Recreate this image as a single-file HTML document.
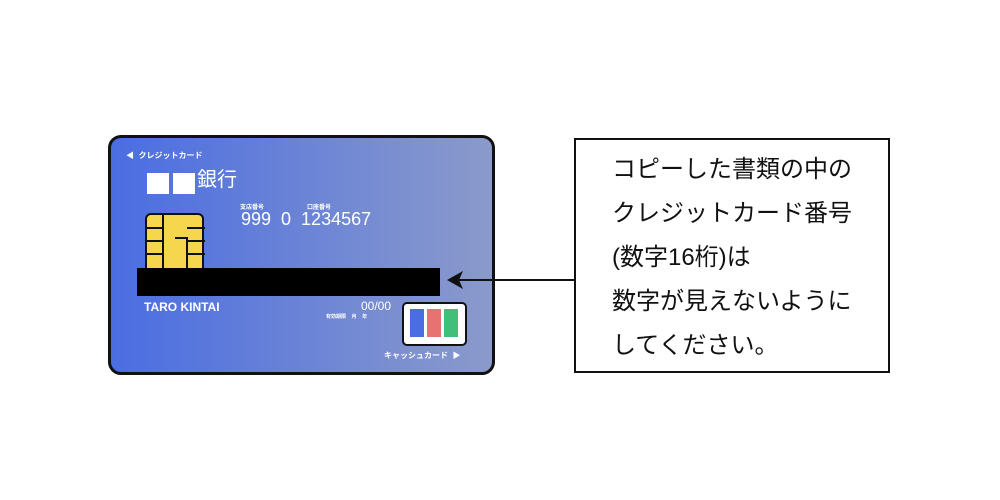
<!DOCTYPE html>
<html><head><meta charset="utf-8"><style>
body{margin:0;width:1000px;height:500px;background:#fff;position:relative;overflow:hidden;font-family:"Liberation Sans","Noto Sans CJK JP",sans-serif}
.a{position:absolute}
.card{left:108px;top:135px;width:381px;height:234px;border:3px solid #111;border-radius:13px;background:linear-gradient(90deg,#4a6de2,#8b9acb)}
.w{color:#fff}
.box{left:574px;top:138px;width:312px;height:231px;border:2px solid #111}
.t{left:612px;font-size:24px;color:#111;white-space:nowrap;line-height:1}
</style></head><body>
<div class="a card"></div>
<div class="a w" style="left:126px;top:150px;font-size:8px;font-weight:bold">◀&nbsp;&nbsp;クレジットカード</div>
<div class="a" style="left:147px;top:173px;width:22px;height:21px;background:#fff"></div>
<div class="a" style="left:173px;top:173px;width:22px;height:21px;background:#fff"></div>
<div class="a w" style="left:197px;top:170px;font-size:20px;line-height:1">銀行</div>
<div class="a w" style="left:240px;top:202px;font-size:6px;font-weight:bold">支店番号</div>
<div class="a w" style="left:307px;top:202px;font-size:6px;font-weight:bold">口座番号</div>
<div class="a w" style="left:241px;top:210px;font-size:18px;line-height:1;white-space:pre">999  0  1234567</div>
<div class="a" style="left:145px;top:213px;width:55px;height:58px;background:#f6d64c;border:2px solid #111;border-radius:6px"></div>
<svg class="a" style="left:145px;top:213px" width="60" height="60"><g stroke="#111" stroke-width="2" fill="none"><path d="M0 15H18M0 28H18M0 41H18M42 28H60M42 41H60M42 15H60M18 0V58M42 58V25H30"/></g></svg>
<div class="a" style="left:137px;top:268px;width:303px;height:28px;background:#000"></div>
<div class="a w" style="left:144px;top:300px;font-size:12px;font-weight:bold">TARO KINTAI</div>
<div class="a w" style="left:361px;top:299px;font-size:12px">00/00</div>
<div class="a w" style="left:326px;top:313px;font-size:5px;font-weight:bold;white-space:pre">有効期限    月    年</div>
<div class="a" style="left:402px;top:302px;width:61px;height:40px;background:#fff;border:2px solid #111;border-radius:5px"></div>
<div class="a" style="left:410px;top:309px;width:14px;height:28px;background:#4a6de2"></div>
<div class="a" style="left:427px;top:309px;width:14px;height:28px;background:#e87272"></div>
<div class="a" style="left:444px;top:309px;width:14px;height:28px;background:#3fbf7a"></div>
<div class="a w" style="left:384px;top:350px;font-size:8px;font-weight:bold">キャッシュカード&nbsp;&nbsp;▶</div>
<svg class="a" style="left:440px;top:268px" width="140" height="24"><line x1="18" y1="12" x2="136" y2="12" stroke="#111" stroke-width="2"/><path d="M7 12L23 3L19 12L23 21Z" fill="#111"/></svg>
<div class="a box"></div>
<div class="a t" style="top:158px">コピーした書類の中の</div>
<div class="a t" style="top:202px">クレジットカード番号</div>
<div class="a t" style="top:246px">(数字16桁)は</div>
<div class="a t" style="top:290px">数字が見えないように</div>
<div class="a t" style="top:334px">してください。</div>
</body></html>
